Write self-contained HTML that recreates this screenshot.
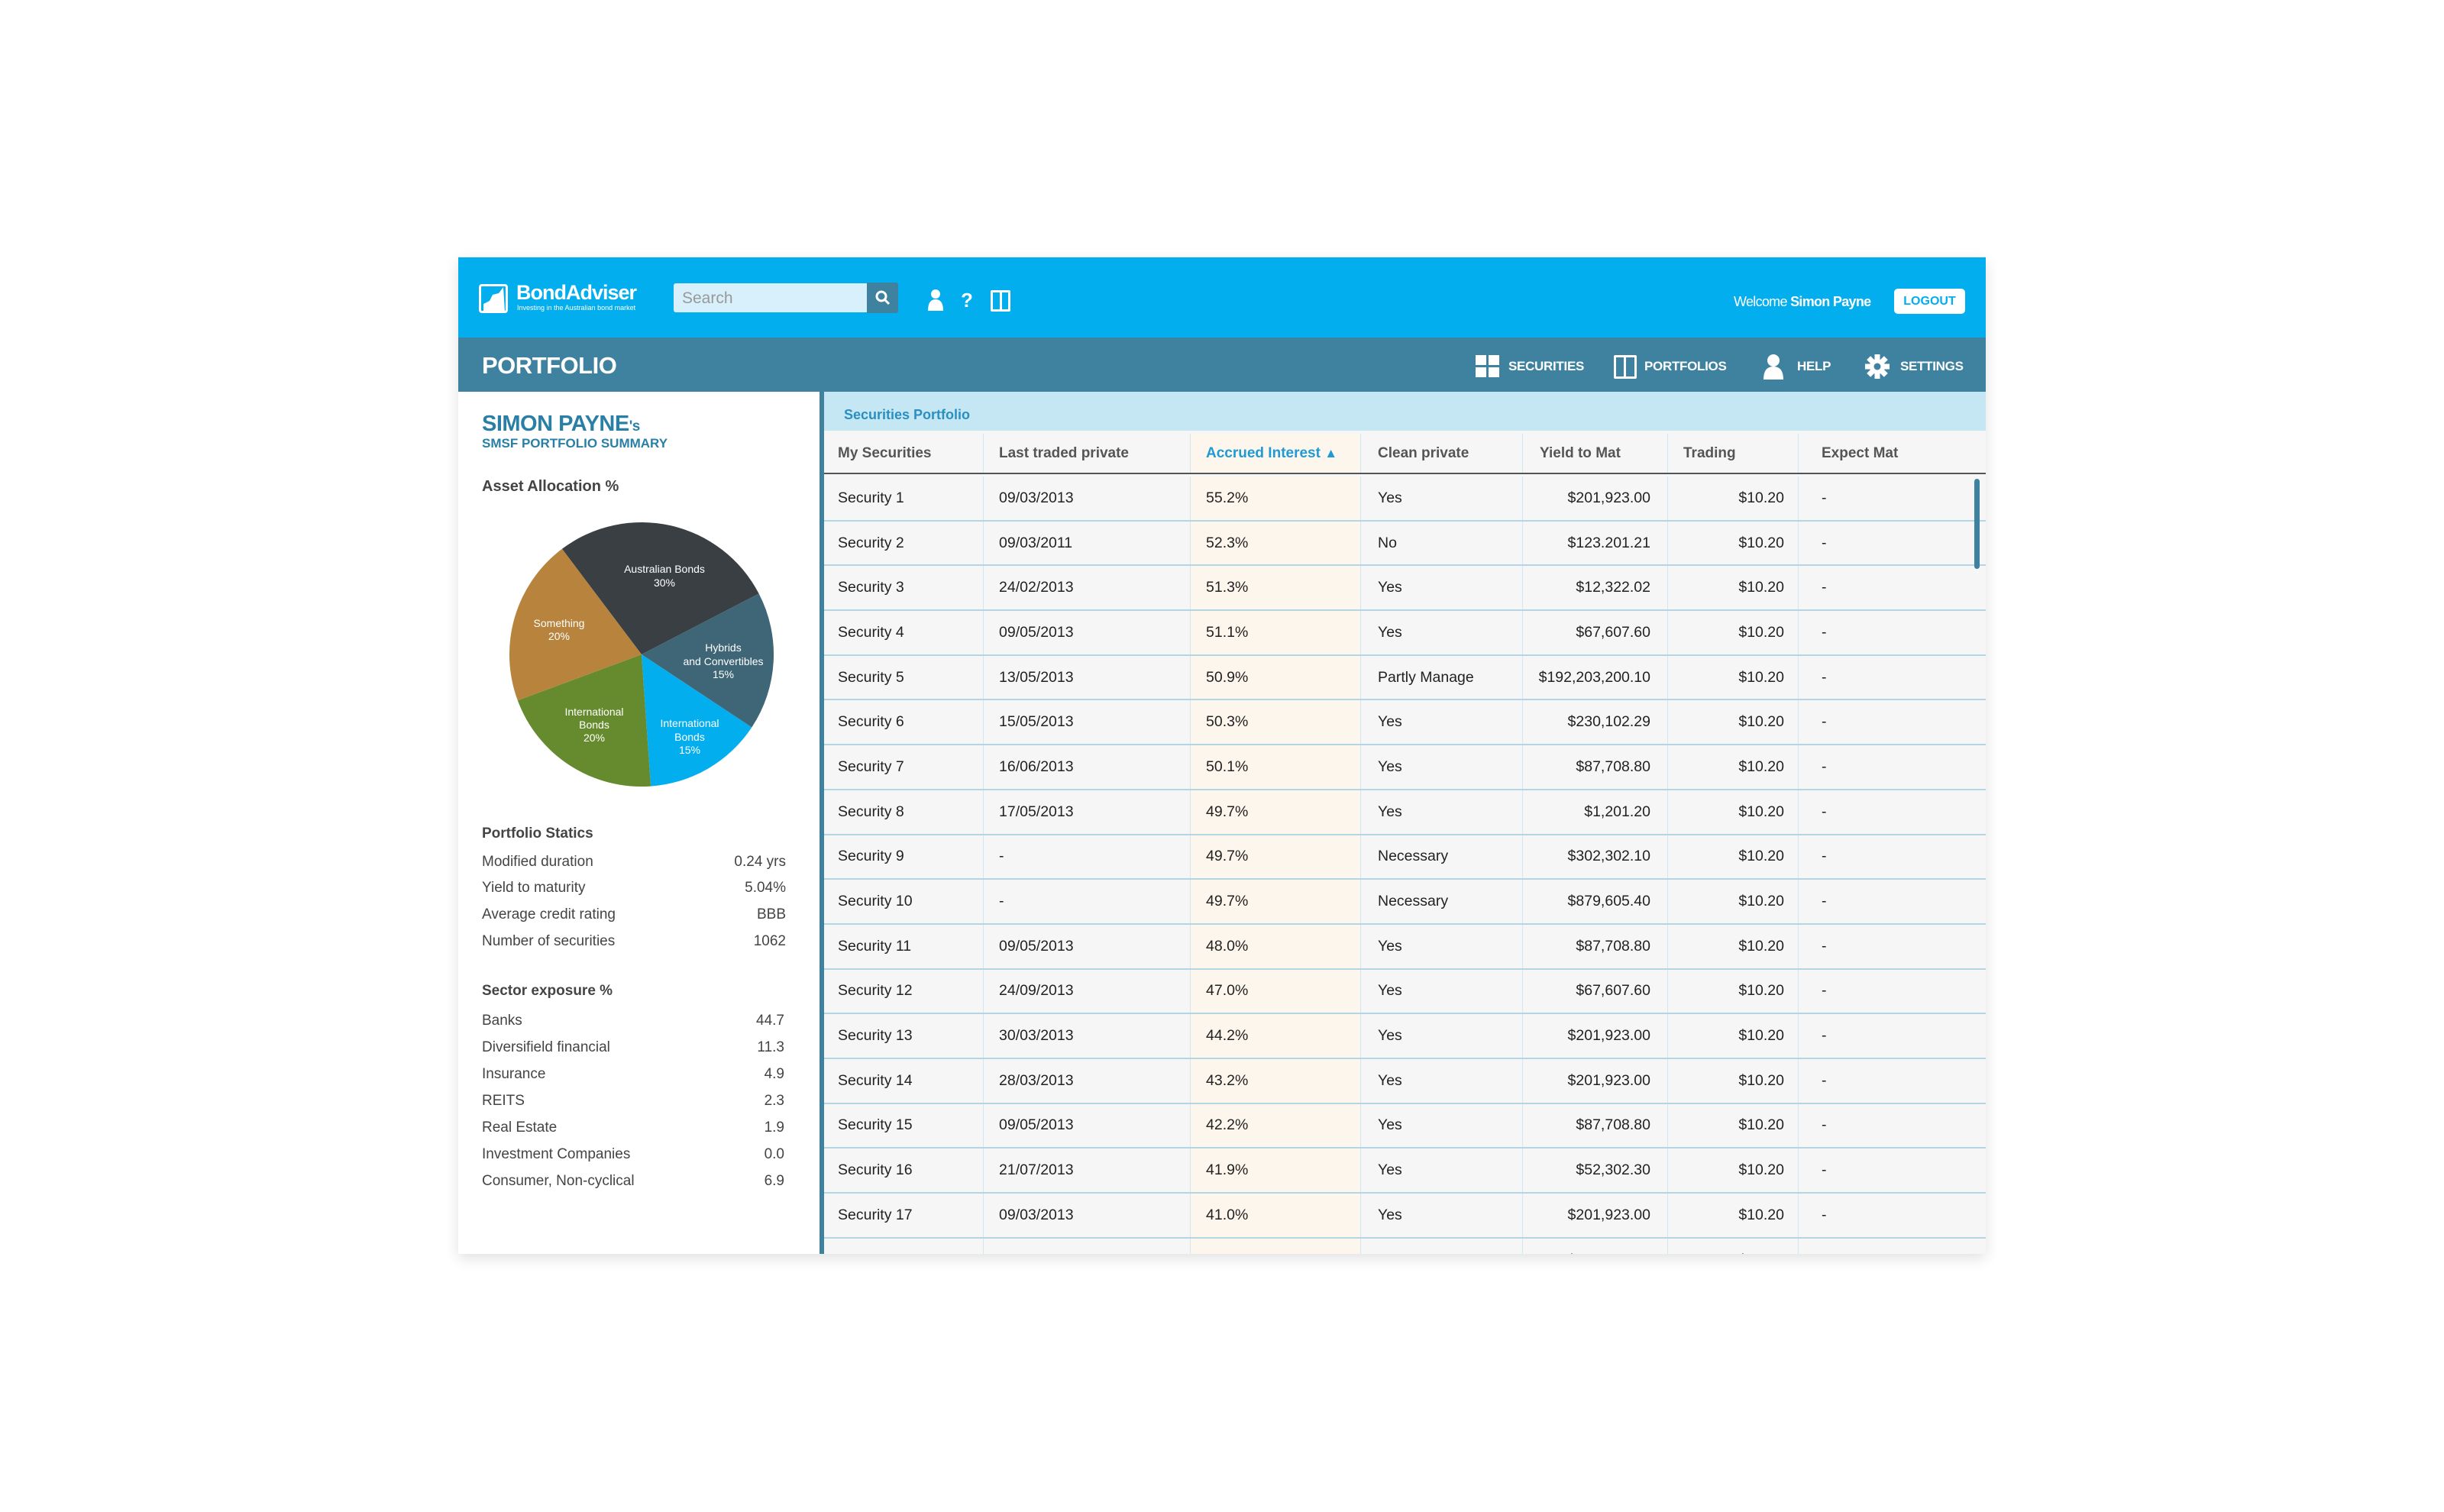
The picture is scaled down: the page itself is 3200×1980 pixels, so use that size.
<!DOCTYPE html>
<html><head><meta charset="utf-8"><style>
*{margin:0;padding:0;box-sizing:border-box}
body{width:3200px;height:1980px;background:#fff;position:relative;font-family:"Liberation Sans",sans-serif;overflow:hidden}
.a{position:absolute}
#card{left:600px;top:337px;width:2000px;height:1305px;background:#fff;box-shadow:0 6px 18px rgba(0,0,0,.12);overflow:hidden}
.w{color:#fff}
.st{font-size:19px;color:#444}
.rows{left:1079px;top:621px;width:1521px}
.row{height:58.7px;border-bottom:2px solid #b3d5e4;display:flex;font-size:19.5px;color:#222;align-items:center}
.row div,.hdr div{height:100%;display:flex;align-items:center;border-right:1px solid #cfe8f3}
.c1{width:209px;padding-left:18px}.c2{width:271px;padding-left:20px}.c3{width:223px;padding-left:20px;background:#fdf6ec}
.c4{width:212px;padding-left:22px}.c5{width:190px;justify-content:flex-end;padding-right:22px}
.c6{width:171px;justify-content:flex-end;padding-right:18px}.c7{width:245px;padding-left:30px;border-right:none!important}
.hdr{left:1079px;top:564px;width:1521px;height:57px;display:flex;background:#f6f6f6;border-bottom:2px solid #555;font-size:19px;font-weight:bold;color:#555;padding-top:4px}
.hdr .c5{justify-content:flex-start;padding-left:22px;padding-right:0}
.hdr .c6{justify-content:flex-start;padding-left:20px;padding-right:0}
.hdr .c3{background:#fdf6ec}
.nav{font-size:17px;font-weight:bold;color:#fff;top:470px;letter-spacing:-.3px}
</style></head><body>
<div id="card" class="a"></div>
<div class="a" style="left:600px;top:337px;width:2000px;height:105px;background:#03aeef"></div>
<div class="a" style="left:627px;top:372px;width:38px;height:38px;border:3px solid #fff;border-radius:4px;background:#03aeef"></div>
<svg class="a" style="left:627px;top:372px" width="40" height="40"><polygon points="6,36 6,26 14,22 18,14 26,12 32,4 34,36" fill="#fff"/></svg>
<div class="a w" style="left:676px;top:368px;font-size:27px;font-weight:bold;letter-spacing:-1px">BondAdviser</div>
<div class="a w" style="left:677px;top:398px;font-size:9px">Investing in the Australian bond market</div>
<div class="a" style="left:882px;top:371px;width:256px;height:38px;background:#d8f0fb;border-radius:3px"></div>
<div class="a" style="left:893px;top:379px;font-size:21px;color:#999">Search</div>
<div class="a" style="left:1135px;top:370px;width:41px;height:40px;background:#3e82a0;border-radius:0 3px 3px 0"></div>
<svg class="a" style="left:1146px;top:380px" width="20" height="20"><circle cx="8" cy="8" r="6" stroke="#fff" stroke-width="3" fill="none"/><line x1="12" y1="12" x2="18" y2="18" stroke="#fff" stroke-width="3"/></svg>
<svg class="a" style="left:1213px;top:378px" width="24" height="30"><circle cx="12" cy="7" r="6" fill="#fff"/><path d="M2 29 Q2 14 12 14 Q22 14 22 29Z" fill="#fff"/></svg>
<div class="a w" style="left:1258px;top:378px;font-size:26px;font-weight:bold">?</div>
<div class="a" style="left:1297px;top:380px;width:26px;height:28px;border:3px solid #fff;border-radius:2px"></div>
<div class="a" style="left:1309px;top:380px;width:3px;height:28px;background:#fff"></div>
<div class="a w" style="left:2270px;top:385px;font-size:18px;letter-spacing:-.7px">Welcome <b>Simon Payne</b></div>
<div class="a" style="left:2480px;top:378px;width:93px;height:33px;background:#fff;border-radius:5px;color:#03aeef;font-size:16px;font-weight:bold;text-align:center;line-height:33px">LOGOUT</div>
<div class="a" style="left:600px;top:442px;width:2000px;height:71px;background:#3e82a0"></div>
<div class="a w" style="left:631px;top:461px;font-size:31px;font-weight:bold;letter-spacing:-.5px">PORTFOLIO</div>
<svg class="a" style="left:1932px;top:465px" width="32" height="30"><rect x="0" y="0" width="14" height="13" fill="#fff"/><rect x="17" y="0" width="14" height="13" fill="#fff"/><rect x="0" y="16" width="14" height="13" fill="#fff"/><rect x="17" y="16" width="14" height="13" fill="#fff"/></svg>
<div class="a nav" style="left:1975px">SECURITIES</div>
<div class="a" style="left:2113px;top:465px;width:30px;height:31px;border:3px solid #fff;border-radius:2px"></div>
<div class="a" style="left:2126px;top:465px;width:3px;height:31px;background:#fff"></div>
<div class="a nav" style="left:2153px">PORTFOLIOS</div>
<svg class="a" style="left:2308px;top:463px" width="28" height="34"><circle cx="14" cy="9" r="8" fill="#fff"/><path d="M1 34 Q1 17 14 17 Q27 17 27 34Z" fill="#fff"/></svg>
<div class="a nav" style="left:2353px">HELP</div>
<svg class="a" style="left:2442px;top:464px" width="32" height="32"><g fill="#fff" transform="translate(16,16)"><circle r="10"/><rect x="-3.5" y="-16" width="7" height="32"/><rect x="-3.5" y="-16" width="7" height="32" transform="rotate(45)"/><rect x="-3.5" y="-16" width="7" height="32" transform="rotate(90)"/><rect x="-3.5" y="-16" width="7" height="32" transform="rotate(135)"/><circle r="4.5" fill="#3e82a0"/></g></svg>
<div class="a nav" style="left:2488px">SETTINGS</div>
<div class="a" style="left:1073px;top:513px;width:6px;height:1129px;background:#3e82a0"></div>
<div class="a" style="left:631px;top:539px;font-size:29px;font-weight:bold;color:#2a7fa6;letter-spacing:-.5px">SIMON PAYNE<span style="font-size:19px">'s</span></div>
<div class="a" style="left:631px;top:571px;font-size:17px;font-weight:bold;color:#2a7fa6">SMSF PORTFOLIO SUMMARY</div>
<div class="a" style="left:631px;top:626px;font-size:20px;font-weight:bold;color:#444">Asset Allocation %</div>
<svg class="a" style="left:0;top:0" width="1070" height="1100">
<path d="M840 857 L735.9 718.8 A173 173 0 0 1 993.6 777.4Z" fill="#3a3f44"/>
<path d="M840 857 L993.6 777.4 A173 173 0 0 1 984.3 952.5Z" fill="#3e6676"/>
<path d="M840 857 L984.3 952.5 A173 173 0 0 1 852.1 1029.6Z" fill="#03aeef"/>
<path d="M840 857 L852.1 1029.6 A173 173 0 0 1 677.8 917.3Z" fill="#668b2e"/>
<path d="M840 857 L677.8 917.3 A173 173 0 0 1 735.9 718.8Z" fill="#b8843d"/>
<g fill="#fff" font-family="Liberation Sans,sans-serif" font-size="14" text-anchor="middle">
<text x="870" y="750">Australian Bonds</text><text x="870" y="768">30%</text>
<text x="732" y="821">Something</text><text x="732" y="838">20%</text>
<text x="947" y="853">Hybrids</text><text x="947" y="871">and Convertibles</text><text x="947" y="888">15%</text>
<text x="903" y="952">International</text><text x="903" y="970">Bonds</text><text x="903" y="987">15%</text>
<text x="778" y="937">International</text><text x="778" y="954">Bonds</text><text x="778" y="971">20%</text>
</g></svg>
<div class="a" style="left:631px;top:1081px;font-size:19px;font-weight:bold;color:#444">Portfolio Statics</div>
<div class="a st" style="left:631px;top:1118px">Modified duration</div><div class="a st" style="left:900px;width:129px;text-align:right;top:1118px">0.24 yrs</div>
<div class="a st" style="left:631px;top:1152px">Yield to maturity</div><div class="a st" style="left:900px;width:129px;text-align:right;top:1152px">5.04%</div>
<div class="a st" style="left:631px;top:1187px">Average credit rating</div><div class="a st" style="left:900px;width:129px;text-align:right;top:1187px">BBB</div>
<div class="a st" style="left:631px;top:1222px">Number of securities</div><div class="a st" style="left:900px;width:129px;text-align:right;top:1222px">1062</div>
<div class="a" style="left:631px;top:1287px;font-size:19px;font-weight:bold;color:#444">Sector exposure %</div>
<div class="a st" style="left:631px;top:1326px">Banks</div><div class="a st" style="left:900px;width:127px;text-align:right;top:1326px">44.7</div>
<div class="a st" style="left:631px;top:1361px">Diversifield financial</div><div class="a st" style="left:900px;width:127px;text-align:right;top:1361px">11.3</div>
<div class="a st" style="left:631px;top:1396px">Insurance</div><div class="a st" style="left:900px;width:127px;text-align:right;top:1396px">4.9</div>
<div class="a st" style="left:631px;top:1431px">REITS</div><div class="a st" style="left:900px;width:127px;text-align:right;top:1431px">2.3</div>
<div class="a st" style="left:631px;top:1466px">Real Estate</div><div class="a st" style="left:900px;width:127px;text-align:right;top:1466px">1.9</div>
<div class="a st" style="left:631px;top:1501px">Investment Companies</div><div class="a st" style="left:900px;width:127px;text-align:right;top:1501px">0.0</div>
<div class="a st" style="left:631px;top:1536px">Consumer, Non-cyclical</div><div class="a st" style="left:900px;width:127px;text-align:right;top:1536px">6.9</div>
<div class="a" style="left:1079px;top:513px;width:1521px;height:51px;background:#c5e7f4"></div>
<div class="a" style="left:1105px;top:533px;font-size:18px;font-weight:bold;color:#2a8fc0">Securities Portfolio</div>
<div class="a hdr"><div class="c1">My Securities</div><div class="c2">Last traded private</div><div class="c3" style="color:#1e9ad6">Accrued Interest&nbsp;<span style="font-size:17px">▲</span></div><div class="c4">Clean private</div><div class="c5">Yield to Mat</div><div class="c6">Trading</div><div class="c7">Expect Mat</div></div>
<div class="a" style="left:1079px;top:621px;width:1521px;height:1021px;background:#f6f6f6;overflow:hidden">
<div class="a rows" style="left:0;top:3px">
<div class="row"><div class="c1">Security 1</div><div class="c2">09/03/2013</div><div class="c3">55.2%</div><div class="c4">Yes</div><div class="c5">$201,923.00</div><div class="c6">$10.20</div><div class="c7">-</div></div>
<div class="row"><div class="c1">Security 2</div><div class="c2">09/03/2011</div><div class="c3">52.3%</div><div class="c4">No</div><div class="c5">$123.201.21</div><div class="c6">$10.20</div><div class="c7">-</div></div>
<div class="row"><div class="c1">Security 3</div><div class="c2">24/02/2013</div><div class="c3">51.3%</div><div class="c4">Yes</div><div class="c5">$12,322.02</div><div class="c6">$10.20</div><div class="c7">-</div></div>
<div class="row"><div class="c1">Security 4</div><div class="c2">09/05/2013</div><div class="c3">51.1%</div><div class="c4">Yes</div><div class="c5">$67,607.60</div><div class="c6">$10.20</div><div class="c7">-</div></div>
<div class="row"><div class="c1">Security 5</div><div class="c2">13/05/2013</div><div class="c3">50.9%</div><div class="c4">Partly Manage</div><div class="c5">$192,203,200.10</div><div class="c6">$10.20</div><div class="c7">-</div></div>
<div class="row"><div class="c1">Security 6</div><div class="c2">15/05/2013</div><div class="c3">50.3%</div><div class="c4">Yes</div><div class="c5">$230,102.29</div><div class="c6">$10.20</div><div class="c7">-</div></div>
<div class="row"><div class="c1">Security 7</div><div class="c2">16/06/2013</div><div class="c3">50.1%</div><div class="c4">Yes</div><div class="c5">$87,708.80</div><div class="c6">$10.20</div><div class="c7">-</div></div>
<div class="row"><div class="c1">Security 8</div><div class="c2">17/05/2013</div><div class="c3">49.7%</div><div class="c4">Yes</div><div class="c5">$1,201.20</div><div class="c6">$10.20</div><div class="c7">-</div></div>
<div class="row"><div class="c1">Security 9</div><div class="c2">-</div><div class="c3">49.7%</div><div class="c4">Necessary</div><div class="c5">$302,302.10</div><div class="c6">$10.20</div><div class="c7">-</div></div>
<div class="row"><div class="c1">Security 10</div><div class="c2">-</div><div class="c3">49.7%</div><div class="c4">Necessary</div><div class="c5">$879,605.40</div><div class="c6">$10.20</div><div class="c7">-</div></div>
<div class="row"><div class="c1">Security 11</div><div class="c2">09/05/2013</div><div class="c3">48.0%</div><div class="c4">Yes</div><div class="c5">$87,708.80</div><div class="c6">$10.20</div><div class="c7">-</div></div>
<div class="row"><div class="c1">Security 12</div><div class="c2">24/09/2013</div><div class="c3">47.0%</div><div class="c4">Yes</div><div class="c5">$67,607.60</div><div class="c6">$10.20</div><div class="c7">-</div></div>
<div class="row"><div class="c1">Security 13</div><div class="c2">30/03/2013</div><div class="c3">44.2%</div><div class="c4">Yes</div><div class="c5">$201,923.00</div><div class="c6">$10.20</div><div class="c7">-</div></div>
<div class="row"><div class="c1">Security 14</div><div class="c2">28/03/2013</div><div class="c3">43.2%</div><div class="c4">Yes</div><div class="c5">$201,923.00</div><div class="c6">$10.20</div><div class="c7">-</div></div>
<div class="row"><div class="c1">Security 15</div><div class="c2">09/05/2013</div><div class="c3">42.2%</div><div class="c4">Yes</div><div class="c5">$87,708.80</div><div class="c6">$10.20</div><div class="c7">-</div></div>
<div class="row"><div class="c1">Security 16</div><div class="c2">21/07/2013</div><div class="c3">41.9%</div><div class="c4">Yes</div><div class="c5">$52,302.30</div><div class="c6">$10.20</div><div class="c7">-</div></div>
<div class="row"><div class="c1">Security 17</div><div class="c2">09/03/2013</div><div class="c3">41.0%</div><div class="c4">Yes</div><div class="c5">$201,923.00</div><div class="c6">$10.20</div><div class="c7">-</div></div>
<div class="row"><div class="c1">Security 18</div><div class="c2">09/03/2013</div><div class="c3">34.0%</div><div class="c4">Yes</div><div class="c5">$201,923.00</div><div class="c6">$10.20</div><div class="c7">-</div></div>
</div>
<div class="a" style="left:1506px;top:6px;width:7px;height:118px;background:#3e82a0;border-radius:4px"></div>
</div>
</body></html>
